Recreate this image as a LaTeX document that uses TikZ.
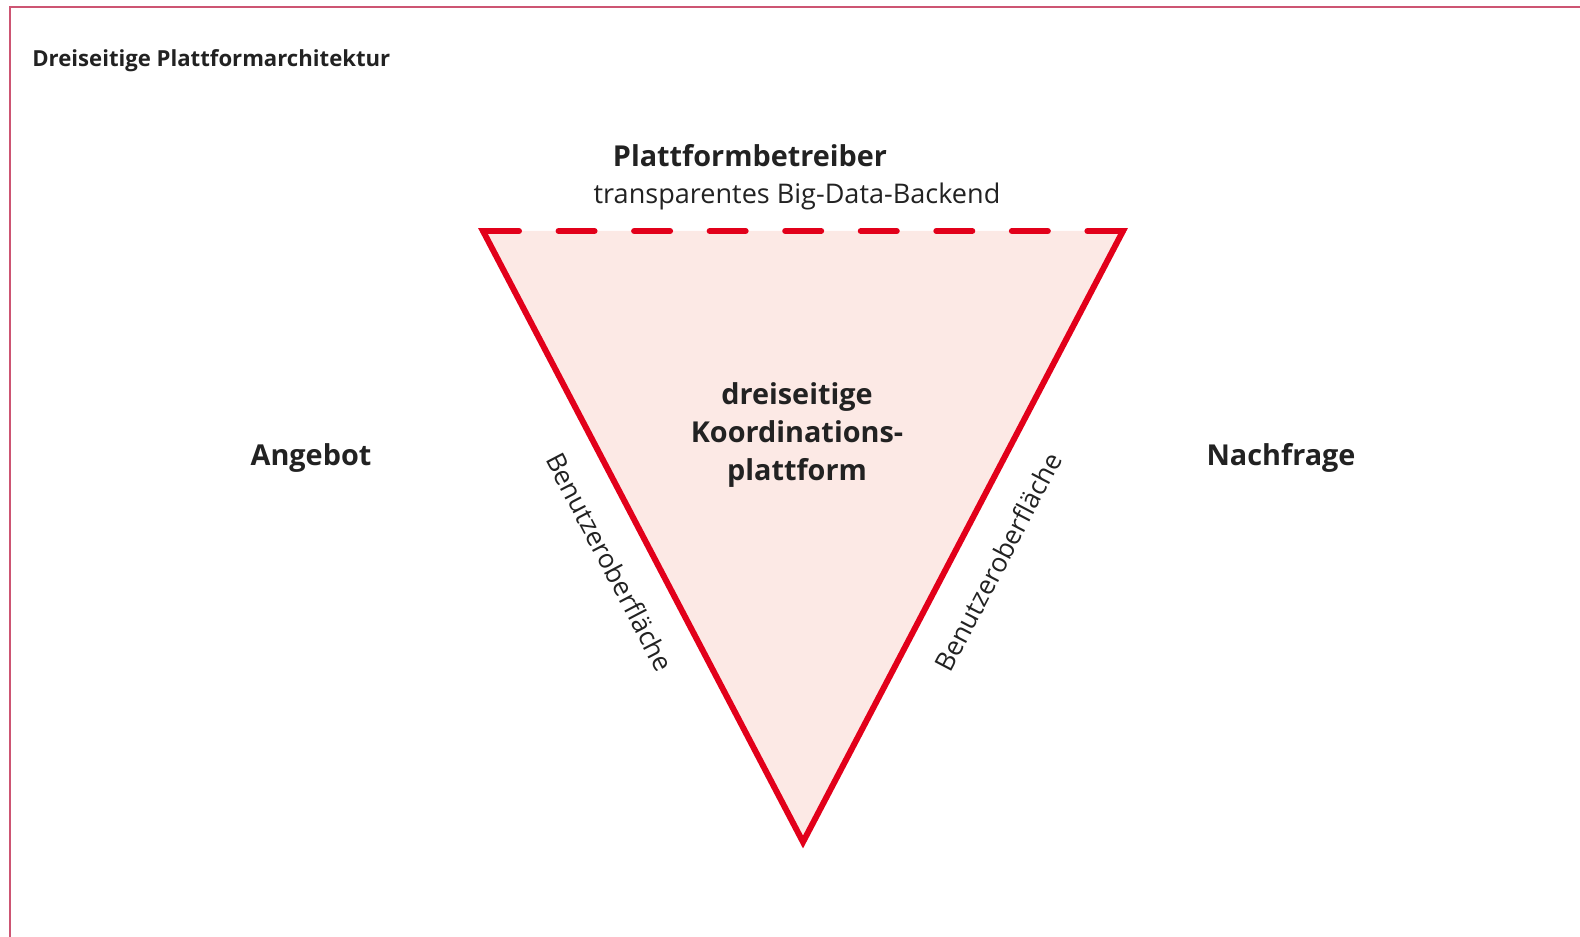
\documentclass[tikz,border=0pt]{standalone}
\usepackage{fontspec}
\setmainfont{Open Sans}
\usetikzlibrary{calc}

\definecolor{platred}{RGB}{226,0,26}
\definecolor{platfill}{RGB}{252,233,229}
\definecolor{framered}{RGB}{205,85,115}
\definecolor{textgray}{RGB}{34,34,34}

\tikzset{
	heading/.style = {anchor=west, inner sep=0pt, font=\bfseries\fontsize{12.6}{15}\selectfont},
	role/.style = {font=\bfseries\fontsize{16.4}{21.7}\selectfont},
	remark/.style = {font=\fontsize{15.4}{18}\selectfont},
	edgelabel/.style = {font=\fontsize{15}{18}\selectfont},
	side/.style = {platred, line width=3.4pt}
}

\begin{document}
\begin{tikzpicture}[x=0.02cm, y=0.02cm, text=textgray]
\useasboundingbox (0,0) rectangle (1580,937);

% frame
\draw[framered, line width=1.2pt] (10,0) -- (10,930) -- (1580,930);
\node[heading] (title) at (32,876.5) {Dreiseitige Plattformarchitektur};

% triangle corners
\coordinate (tl) at (483,706);
\coordinate (tr) at (1123,706);
\coordinate (bt) at (803,95);

\fill[platfill] (tl) -- (tr) -- (bt) -- cycle;
\draw[side, line join=miter] ($(tl)!0.05!(tr)$) -- (tl) -- (bt) -- (tr) -- ($(tr)!0.05!(tl)$);
\draw[side, line cap=round, dash pattern=on 20.5pt off 22.5pt] (tl) -- (tr);

% the three sides
\node[role] (operator) at (750,781) {Plattformbetreiber};
\node[remark] (backend) at (797,741) {transparentes Big-Data-Backend};
\node[role] (supply) at (311,479) {Angebot};
\node[role] (demand) at (1281,479) {Nachfrage};
\node[role, align=center] (core) at (797,502) {dreiseitige\\Koordinations-\\plattform};

% user interfaces along the edges
\node[edgelabel, rotate=-62.4] (uileft) at (610,375) {Benutzeroberfläche};
\node[edgelabel, rotate=62.4] (uiright) at (998,375) {Benutzeroberfläche};
\end{tikzpicture}
\end{document}
